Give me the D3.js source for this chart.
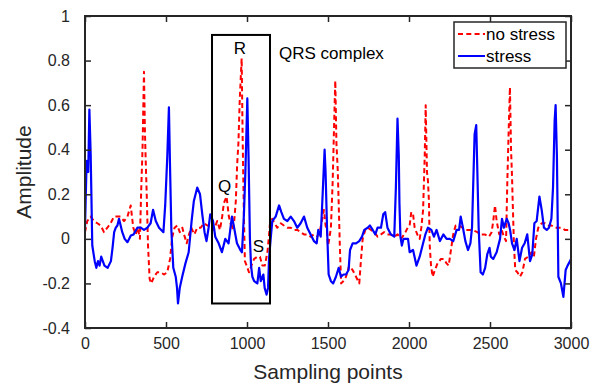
<!DOCTYPE html>
<html>
<head>
<meta charset="utf-8">
<script src="https://cdn.jsdelivr.net/npm/d3@7"></script>
<style>
  html, body { margin: 0; padding: 0; background: #fff; }
  svg { display: block; font-family: "Liberation Sans", Arial, Helvetica, sans-serif; }
</style>
</head>
<body>
<svg id="chart" width="599" height="384"></svg>
<script>
// ---- data ----
const xTicks = [0, 500, 1000, 1500, 2000, 2500, 3000];
const yTicks = [-0.4, -0.2, 0, 0.2, 0.4, 0.6, 0.8, 1];
const yTickLabels = ["-0.4", "-0.2", "0", "0.2", "0.4", "0.6", "0.8", "1"];
const seriesNames = ["no stress", "stress"];

const noStressX = [0,14,35,55,76,97,117,138,158,179,200,220,241,262,282,298,313,326,339,347,355,364,370,374,381,389,399,409,426,446,467,488,508,525,539,553,570,585,601,611,628,642,656,675,693,714,734,755,775,796,816,833,847,857,874,888,909,921,931,939,947,955,967,973,981,987,998,1012,1027,1044,1064,1080,1095,1110,1126,1134,1142,1156,1170,1187,1208,1228,1249,1270,1290,1311,1331,1352,1372,1393,1413,1434,1451,1465,1475,1485,1493,1500,1508,1518,1529,1539,1545,1552,1560,1566,1573,1581,1594,1611,1631,1652,1673,1693,1704,1714,1730,1745,1765,1786,1806,1827,1847,1867,1888,1909,1930,1950,1971,1992,2004,2014,2025,2035,2051,2066,2076,2087,2097,2103,2111,2117,2123,2128,2136,2146,2160,2176,2197,2215,2232,2245,2257,2273,2288,2309,2329,2350,2370,2391,2422,2442,2467,2494,2510,2520,2531,2541,2557,2572,2586,2599,2607,2615,2623,2630,2636,2640,2648,2656,2669,2685,2700,2716,2736,2757,2771,2784,2798,2819,2840,2860,2880,2901,2921,2942,2962,2983,3000];
const noStressY = [0.03,0.08,0.10,0.08,0.07,0.06,0.03,0.05,0.07,0.10,0.10,0.10,0.08,0.10,0.15,0.05,0.02,0.05,0.00,0.22,0.40,0.75,0.48,0.37,0.20,-0.03,-0.18,-0.20,-0.17,-0.15,-0.15,-0.16,-0.15,-0.09,0.01,0.05,0.06,0.03,0.05,0.02,-0.02,0.02,0.05,0.02,0.05,0.05,0.07,0.06,0.06,0.04,0.08,0.04,0.10,0.16,0.19,0.10,0.04,0.08,0.17,0.33,0.43,0.62,0.81,0.46,0.10,-0.10,-0.12,-0.15,-0.12,-0.09,-0.08,-0.08,-0.12,-0.12,-0.06,0.00,0.07,0.09,0.07,0.05,0.07,0.06,0.05,0.05,0.04,0.04,0.03,0.02,0.02,0.01,0.02,0.01,0.04,0.09,0.13,0.06,0.04,-0.03,0.00,0.05,0.26,0.55,0.71,0.43,0.31,0.16,-0.03,-0.20,-0.19,-0.17,-0.12,-0.14,-0.17,-0.20,-0.09,0.00,0.04,0.05,0.04,0.03,0.01,0.02,0.03,0.02,0.02,0.01,0.02,0.00,0.02,0.05,0.06,0.12,0.11,0.05,0.02,0.00,0.05,0.13,0.37,0.60,0.30,0.26,0.17,-0.03,-0.12,-0.17,-0.14,-0.11,-0.09,-0.09,-0.11,-0.12,-0.06,0.02,0.06,0.06,0.05,0.04,0.04,0.04,0.03,0.02,0.02,0.01,0.03,0.08,0.15,0.08,0.02,0.04,0.01,-0.01,0.26,0.48,0.68,0.40,0.28,0.17,-0.03,-0.14,-0.15,-0.17,-0.15,-0.09,-0.08,-0.06,-0.08,0.00,0.05,0.07,0.07,0.06,0.06,0.05,0.05,0.05,0.04,0.04,0.03];

const stressX = [0,10,20,27,35,45,60,70,80,90,100,110,120,140,160,170,180,190,200,210,220,230,245,262,283,300,323,344,364,385,405,420,437,457,484,495,508,518,525,533,545,560,568,574,585,600,620,640,658,672,693,710,724,738,750,763,773,790,804,825,845,866,886,907,918,938,959,969,981,990,1002,1010,1018,1025,1033,1044,1064,1075,1085,1101,1109,1121,1130,1136,1146,1156,1177,1198,1212,1228,1249,1270,1290,1310,1331,1352,1372,1393,1413,1430,1440,1455,1467,1479,1485,1494,1504,1518,1532,1549,1566,1580,1596,1611,1627,1636,1652,1673,1693,1710,1724,1745,1759,1776,1792,1806,1827,1841,1853,1867,1888,1909,1919,1929,1937,1941,1947,1956,1966,1983,1994,2004,2025,2046,2066,2087,2101,2117,2138,2154,2170,2191,2212,2232,2252,2273,2294,2309,2319,2333,2348,2364,2379,2389,2405,2415,2421,2430,2442,2456,2470,2483,2497,2505,2520,2541,2562,2574,2586,2603,2615,2624,2636,2651,2665,2682,2698,2714,2730,2747,2761,2774,2788,2805,2819,2833,2850,2864,2879,2889,2899,2905,2913,2918,2922,2938,2953,2967,2979,2994,3000];
const stressY = [0.05,0.35,0.30,0.58,0.38,-0.03,-0.10,-0.13,-0.10,-0.12,-0.08,-0.10,-0.12,-0.13,-0.10,-0.04,0.03,0.05,0.06,0.09,0.06,0.03,0.00,-0.015,0.015,0.02,0.05,0.05,0.04,0.05,0.07,0.13,0.08,0.05,0.03,0.15,0.37,0.59,0.32,0.04,-0.13,-0.17,-0.22,-0.29,-0.22,-0.17,-0.11,-0.06,0.08,0.17,0.23,0.20,0.11,0.03,-0.01,0.05,0.11,0.08,0.01,-0.02,-0.06,0.00,-0.02,0.10,0.06,-0.02,-0.05,-0.06,0.11,0.30,0.63,0.35,0.00,-0.12,-0.17,-0.19,-0.20,-0.13,-0.19,-0.16,-0.22,-0.25,-0.22,-0.09,0.00,0.08,0.10,0.15,0.12,0.09,0.08,0.10,0.08,0.05,0.07,0.10,0.05,0.02,-0.01,-0.02,0.04,0.01,0.20,0.40,0.30,0.05,-0.16,-0.19,-0.20,-0.17,-0.13,-0.17,-0.16,-0.16,-0.14,-0.05,-0.02,-0.02,-0.01,0.01,0.04,0.05,0.06,0.04,0.02,0.05,0.05,0.11,0.12,0.05,0.02,0.01,0.23,0.54,0.37,0.16,0.01,-0.03,0.00,0.00,0.00,-0.06,-0.05,-0.12,-0.08,-0.02,0.02,0.05,0.04,0.01,0.04,-0.01,0.02,0.00,0.00,-0.01,0.04,0.04,0.10,0.05,-0.01,-0.05,-0.02,0.05,0.47,0.51,0.33,0.05,-0.15,-0.16,-0.13,-0.07,-0.04,-0.08,-0.09,-0.06,0.00,0.09,0.05,0.09,0.07,0.04,-0.02,-0.05,0.00,-0.10,-0.04,-0.02,0.02,-0.10,-0.07,0.07,0.08,0.19,0.13,0.05,0.04,0.05,0.09,0.23,0.53,0.60,0.37,0.08,-0.17,-0.20,-0.26,-0.14,-0.12,-0.10,-0.09];

// annotation box (data coordinates)
const boxX = [784, 1142];
const boxY = [-0.29, 0.915];

// ---- drawing ----
const svg = d3.select("#chart");
const L = 85, R = 571, T = 16, B = 328;
const x = d3.scaleLinear().domain([0, 3000]).range([L, R]);
const y = d3.scaleLinear().domain([-0.4, 1]).range([B, T]);
const axisColor = "#262626";

svg.append("defs").append("clipPath").attr("id", "clip")
  .append("rect").attr("x", L).attr("y", T).attr("width", R - L).attr("height", B - T);

const line = d3.line().x(d => x(d[0])).y(d => y(d[1]));
const noStress = noStressX.map((v, i) => [v, noStressY[i]]);
const stress = stressX.map((v, i) => [v, stressY[i]]);

const g = svg.append("g").attr("clip-path", "url(#clip)");
g.append("path").datum(noStress).attr("d", line)
  .attr("fill", "none").attr("stroke", "#ff0000").attr("stroke-width", 2)
  .attr("stroke-dasharray", "5,3.3").attr("stroke-linejoin", "round");
g.append("path").datum(stress).attr("d", line)
  .attr("fill", "none").attr("stroke", "#0000ff").attr("stroke-width", 2.2)
  .attr("stroke-linejoin", "round");

// axes (MATLAB style: inward ticks, full box)
const tickLen = 6;
const axB = svg.append("g").attr("transform", `translate(0,${B})`)
  .call(d3.axisBottom(x).tickValues(xTicks).tickSize(-tickLen).tickFormat(d3.format("d")));
const axT = svg.append("g").attr("transform", `translate(0,${T})`)
  .call(d3.axisTop(x).tickValues(xTicks).tickSize(-tickLen).tickFormat(""));
const axL = svg.append("g").attr("transform", `translate(${L},0)`)
  .call(d3.axisLeft(y).tickValues(yTicks).tickSize(-tickLen).tickFormat((d, i) => yTickLabels[i]));
const axR = svg.append("g").attr("transform", `translate(${R},0)`)
  .call(d3.axisRight(y).tickValues(yTicks).tickSize(-tickLen).tickFormat(""));

[axB, axT, axL, axR].forEach(a => {
  a.select(".domain").remove();
  a.selectAll("line").attr("stroke", axisColor).attr("stroke-width", 1.5);
  a.selectAll("text").attr("fill", axisColor).attr("font-size", 16)
    .attr("font-family", "Liberation Sans, Arial, sans-serif");
});
axL.selectAll("text").attr("x", -15);
axB.selectAll("text").attr("dy", "0.71em").attr("y", 10);

svg.append("rect").attr("x", L).attr("y", T).attr("width", R - L).attr("height", B - T)
  .attr("fill", "none").attr("stroke", axisColor).attr("stroke-width", 2);

// axis labels
svg.append("text").attr("x", (L + R) / 2).attr("y", 379).attr("text-anchor", "middle")
  .attr("font-size", 21).attr("fill", axisColor).text("Sampling points");
svg.append("text").attr("transform", `translate(31,${(T + B) / 2}) rotate(-90)`)
  .attr("text-anchor", "middle").attr("font-size", 21).attr("fill", axisColor).text("Amplitude");

// QRS annotation
svg.append("rect").attr("x", x(boxX[0])).attr("y", y(boxY[1]))
  .attr("width", x(boxX[1]) - x(boxX[0])).attr("height", y(boxY[0]) - y(boxY[1]))
  .attr("fill", "none").attr("stroke", "#000").attr("stroke-width", 2);
const ann = [["R", 240, 54], ["Q", 224.5, 192], ["S", 258.5, 252]];
ann.forEach(a => svg.append("text").attr("x", a[1]).attr("y", a[2]).attr("text-anchor", "middle")
  .attr("font-size", 17).attr("fill", "#000").text(a[0]));
svg.append("text").attr("x", 279).attr("y", 59).attr("font-size", 17).attr("fill", "#000").text("QRS complex");

// legend
const lg = svg.append("g");
lg.append("rect").attr("x", 454).attr("y", 22).attr("width", 112).attr("height", 46)
  .attr("fill", "#fff").attr("stroke", axisColor).attr("stroke-width", 1.5);
const legendItems = [
  { name: seriesNames[0], color: "#ff0000", dash: "5,3.3", yy: 34 },
  { name: seriesNames[1], color: "#0000ff", dash: null, yy: 56 }
];
legendItems.forEach(it => {
  lg.append("line").attr("x1", 458).attr("x2", 485).attr("y1", it.yy).attr("y2", it.yy)
    .attr("stroke", it.color).attr("stroke-width", 2).attr("stroke-dasharray", it.dash);
  lg.append("text").attr("x", 486).attr("y", it.yy + 6).attr("font-size", 17)
    .attr("fill", "#000").text(it.name);
});
</script>
</body>
</html>
